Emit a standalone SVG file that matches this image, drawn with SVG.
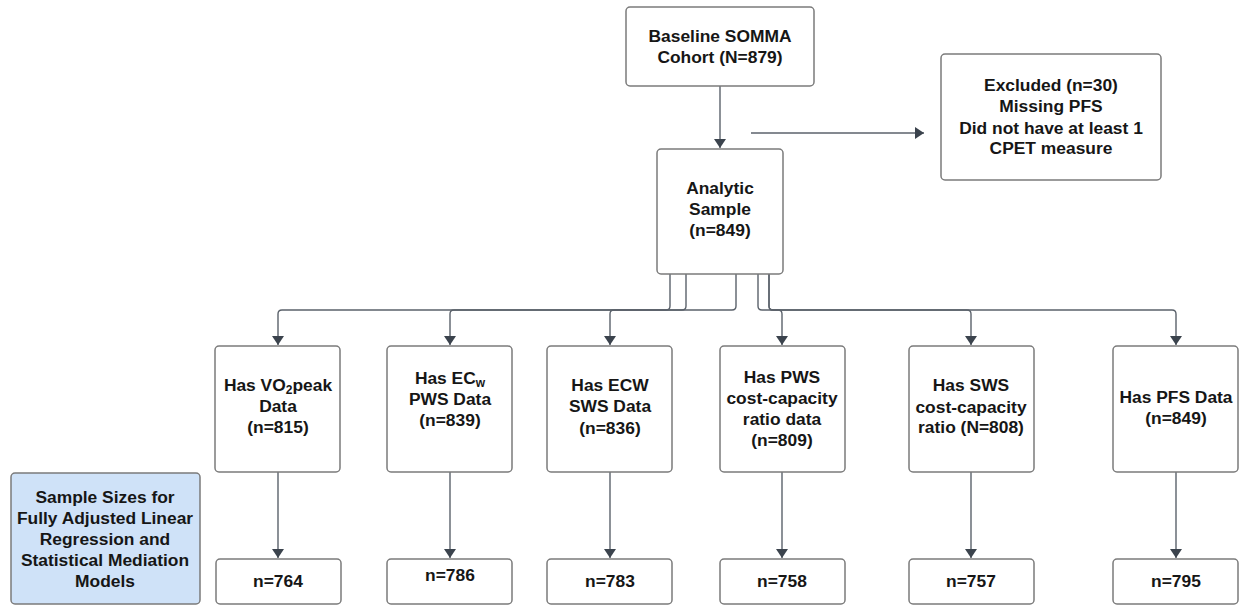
<svg xmlns="http://www.w3.org/2000/svg" width="1240" height="606" viewBox="0 0 1240 606">
<style>
.box{fill:#ffffff;stroke:#7b7b7b;stroke-width:1.5}
.blue{fill:#cfe2f8;stroke:#7b7b7b;stroke-width:1.5}
.t{font-family:"Liberation Sans",Arial,sans-serif;font-weight:bold;font-size:17.4px;fill:#161616;text-anchor:middle}
.c{fill:none;stroke:#5b626b;stroke-width:1.4}
</style>
<defs>
<marker id="ah" markerWidth="9" markerHeight="12" refX="10" refY="5" orient="auto" markerUnits="userSpaceOnUse" viewBox="0 0 10 10" preserveAspectRatio="none">
<path d="M0,0 L10,5 L0,10 Z" fill="#3b434d"/>
</marker>
</defs>
<rect width="1240" height="606" fill="#ffffff"/>
<g id="connectors">
<path class="c" d="M720,86 V148" marker-end="url(#ah)"/>
<path class="c" d="M751,133 H924" marker-end="url(#ah)"/>
<path class="c" d="M670,274 V306 Q670,310 666,310 H282 Q278,310 278,314 V345" marker-end="url(#ah)"/>
<path class="c" d="M686,274 V306 Q686,310 682,310 H454 Q450,310 450,314 V345" marker-end="url(#ah)"/>
<path class="c" d="M736,274 V306 Q736,310 732,310 H614 Q610,310 610,314 V345" marker-end="url(#ah)"/>
<path class="c" d="M758,274 V306 Q758,310 762,310 H778 Q782,310 782,314 V345" marker-end="url(#ah)"/>
<path class="c" d="M769,274 V306 Q769,310 773,310 H967 Q971,310 971,314 V345" marker-end="url(#ah)"/>
<path class="c" d="M769,274 V306 Q769,310 773,310 H1172 Q1176,310 1176,314 V345" marker-end="url(#ah)"/>
<path class="c" d="M278,472 V558" marker-end="url(#ah)"/>
<path class="c" d="M450,472 V558" marker-end="url(#ah)"/>
<path class="c" d="M610,472 V558" marker-end="url(#ah)"/>
<path class="c" d="M782,472 V558" marker-end="url(#ah)"/>
<path class="c" d="M971,472 V558" marker-end="url(#ah)"/>
<path class="c" d="M1176,472 V558" marker-end="url(#ah)"/>
</g>
<g id="baseline">
<rect class="box" x="626" y="7" width="188" height="79" rx="4"/>
<text class="t" x="720" y="42">Baseline SOMMA</text>
<text class="t" x="720" y="63">Cohort (N=879)</text>
</g>
<g id="excluded">
<rect class="box" x="941" y="54" width="220" height="126" rx="4"/>
<text class="t" x="1051" y="91">Excluded (n=30)</text>
<text class="t" x="1051" y="112">Missing PFS</text>
<text class="t" x="1051" y="134">Did not have at least 1</text>
<text class="t" x="1051" y="154">CPET measure</text>
</g>
<g id="analytic">
<rect class="box" x="657" y="149" width="126" height="125" rx="4"/>
<text class="t" x="720" y="194">Analytic</text>
<text class="t" x="720" y="215">Sample</text>
<text class="t" x="720" y="236">(n=849)</text>
</g>
<g id="vo2">
<rect class="box" x="215" y="346" width="125" height="126" rx="4"/>
<text class="t" x="278" y="391">Has VO<tspan font-size="12" dy="3">2</tspan><tspan dy="-3">peak</tspan></text>
<text class="t" x="278" y="412">Data</text>
<text class="t" x="278" y="433">(n=815)</text>
</g>
<g id="ecw-pws">
<rect class="box" x="387" y="346" width="125" height="126" rx="4"/>
<text class="t" x="450" y="384">Has EC<tspan font-size="12" dy="3">w</tspan></text>
<text class="t" x="450" y="405">PWS Data</text>
<text class="t" x="450" y="426">(n=839)</text>
</g>
<g id="ecw-sws">
<rect class="box" x="547" y="346" width="125" height="126" rx="4"/>
<text class="t" x="610" y="391">Has ECW</text>
<text class="t" x="610" y="412">SWS Data</text>
<text class="t" x="610" y="434">(n=836)</text>
</g>
<g id="pws-ratio">
<rect class="box" x="720" y="346" width="125" height="126" rx="4"/>
<text class="t" x="782" y="383">Has PWS</text>
<text class="t" x="782" y="404">cost-capacity</text>
<text class="t" x="782" y="425">ratio data</text>
<text class="t" x="782" y="446">(n=809)</text>
</g>
<g id="sws-ratio">
<rect class="box" x="909" y="346" width="125" height="126" rx="4"/>
<text class="t" x="971" y="391">Has SWS</text>
<text class="t" x="971" y="413">cost-capacity</text>
<text class="t" x="971" y="433">ratio (N=808)</text>
</g>
<g id="pfs">
<rect class="box" x="1113" y="346" width="125" height="126" rx="4"/>
<text class="t" x="1176" y="403">Has PFS Data</text>
<text class="t" x="1176" y="424">(n=849)</text>
</g>
<g id="legend">
<rect class="blue" x="11" y="473" width="189" height="131" rx="4"/>
<text class="t" x="105" y="503">Sample Sizes for</text>
<text class="t" x="105" y="524">Fully Adjusted Linear</text>
<text class="t" x="105" y="545">Regression and</text>
<text class="t" x="105" y="566">Statistical Mediation</text>
<text class="t" x="105" y="587">Models</text>
</g>
<g id="n764">
<rect class="box" x="216" y="559" width="125" height="45" rx="4"/>
<text class="t" x="278" y="587">n=764</text>
</g>
<g id="n786">
<rect class="box" x="387" y="559" width="125" height="45" rx="4"/>
<text class="t" x="450" y="581">n=786</text>
</g>
<g id="n783">
<rect class="box" x="547" y="559" width="125" height="45" rx="4"/>
<text class="t" x="610" y="587">n=783</text>
</g>
<g id="n758">
<rect class="box" x="720" y="559" width="125" height="45" rx="4"/>
<text class="t" x="782" y="587">n=758</text>
</g>
<g id="n757">
<rect class="box" x="909" y="559" width="125" height="45" rx="4"/>
<text class="t" x="971" y="587">n=757</text>
</g>
<g id="n795">
<rect class="box" x="1113" y="559" width="125" height="45" rx="4"/>
<text class="t" x="1176" y="587">n=795</text>
</g>
</svg>
